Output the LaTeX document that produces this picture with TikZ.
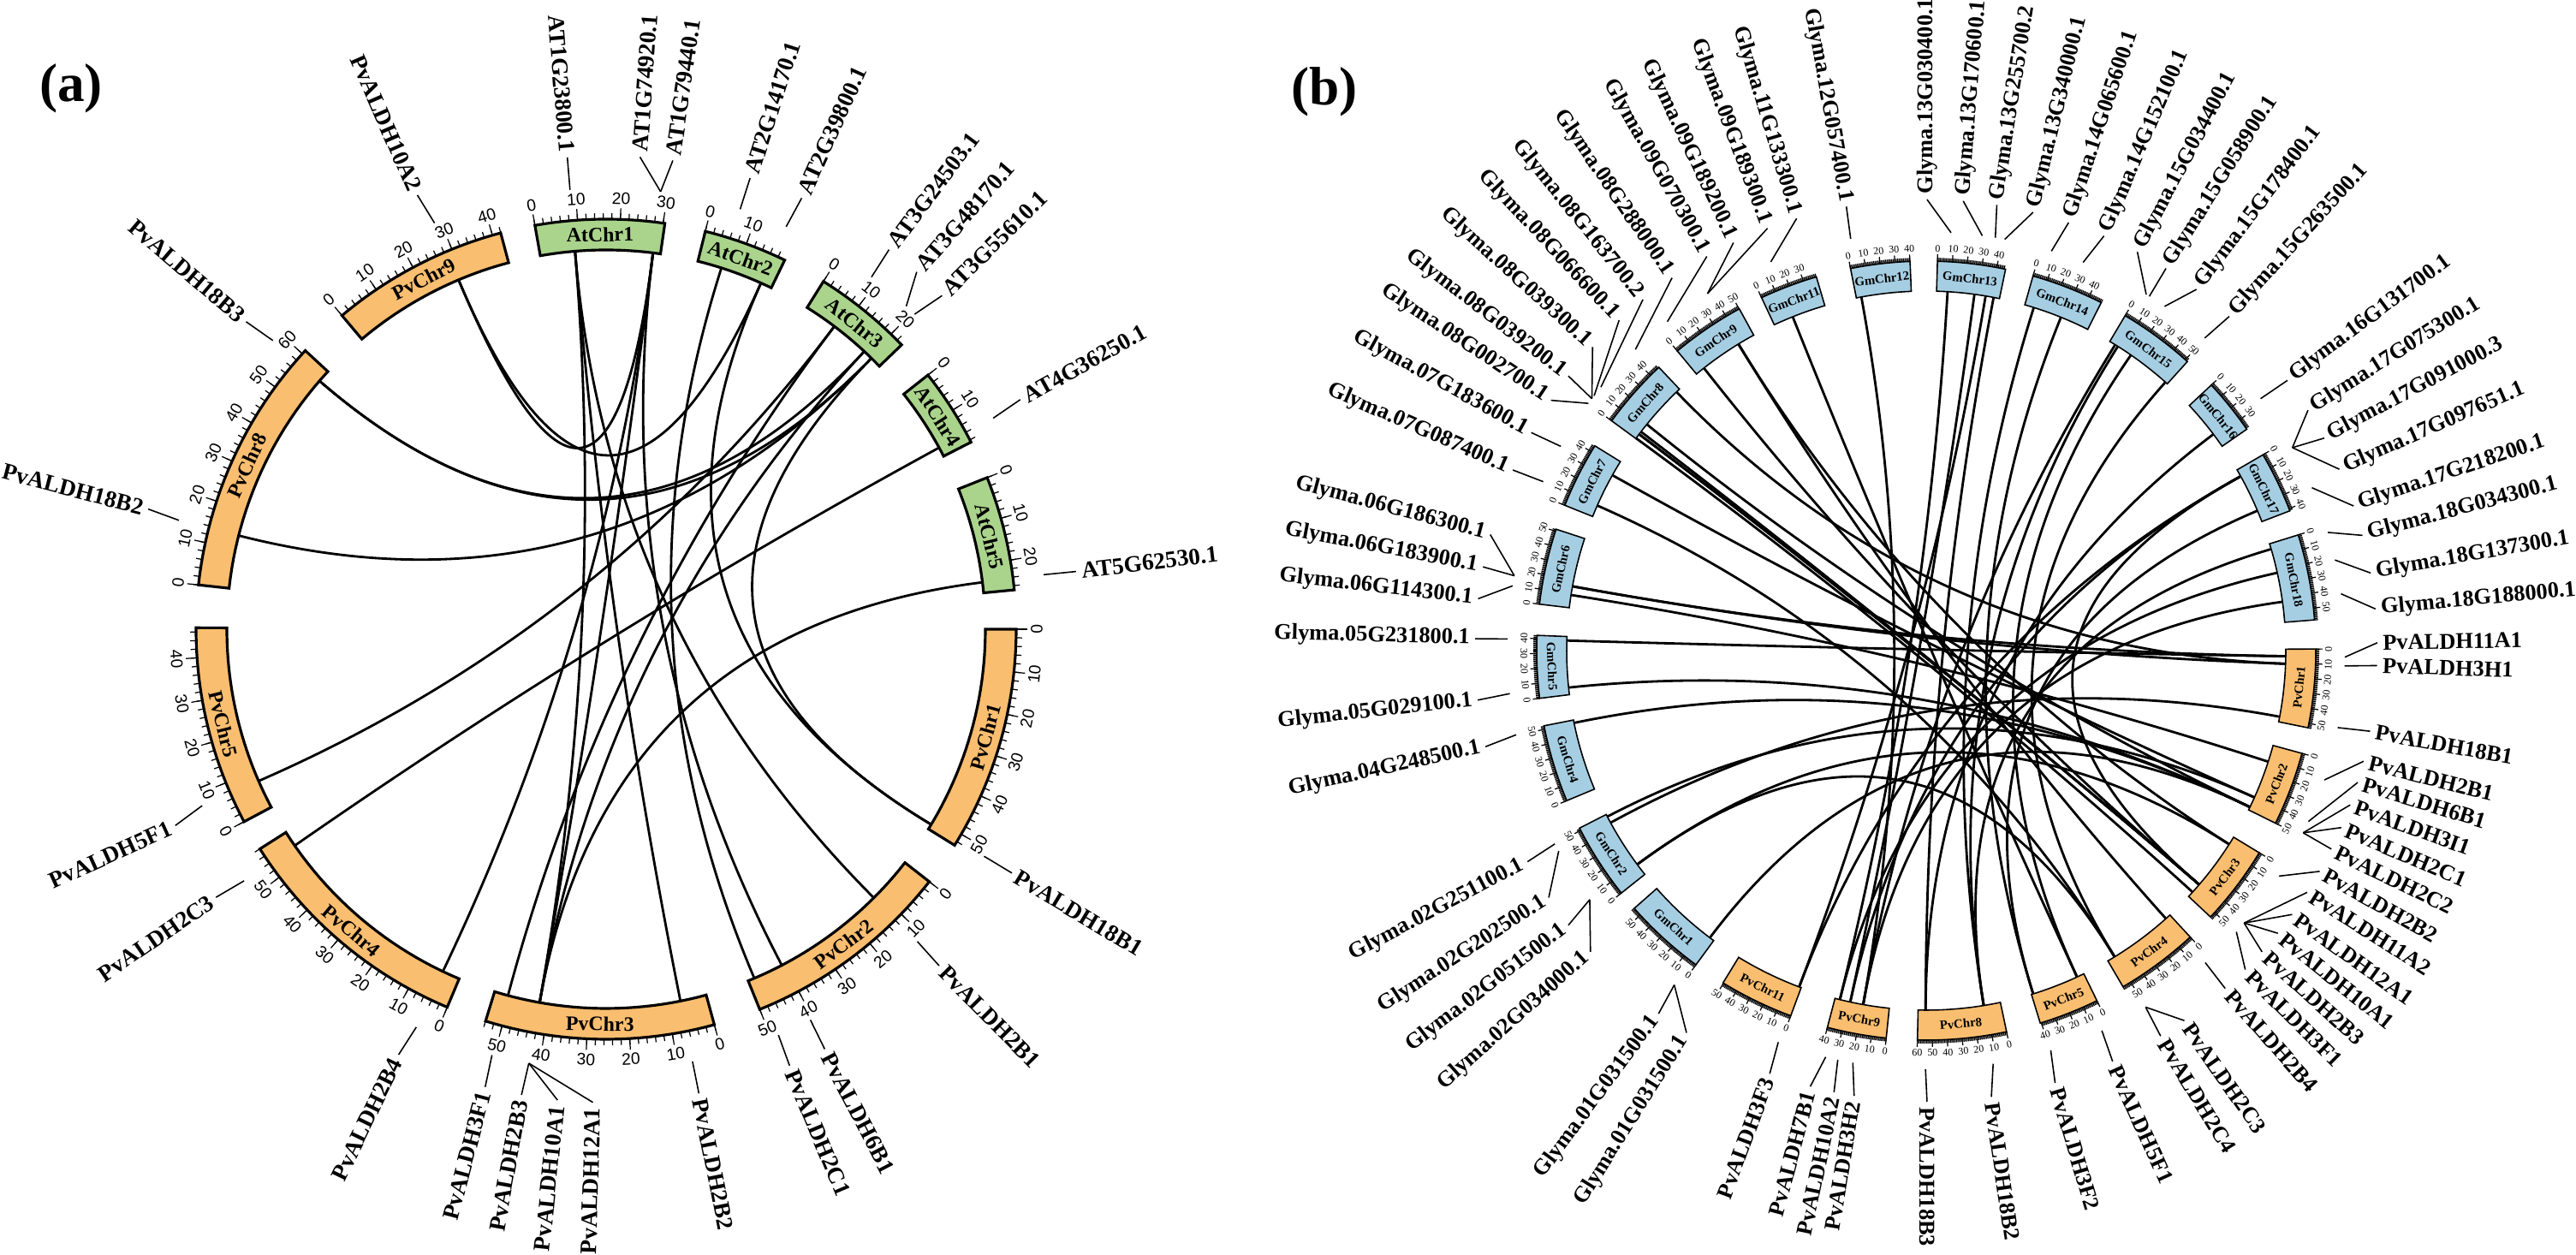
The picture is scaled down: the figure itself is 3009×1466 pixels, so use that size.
\documentclass[tikz,border=0pt]{standalone}
\usepackage{fontspec}
\setmainfont{Liberation Serif}
\newfontfamily\ticksans{Liberation Sans}
\usetikzlibrary{calc}

\definecolor{pvorange}{RGB}{250,190,112}
\definecolor{atgreen}{RGB}{170,212,140}
\definecolor{gmblue}{RGB}{166,206,227}

\tikzset{
  chrbox/.style={draw=black, line join=miter},
  link/.style={line width=0.8pt},
  leader/.style={line width=0.45pt},
  tickline/.style={line width=0.35pt},
}

% tangential rotation, kept upright
\newcommand{\uprot}[1]{%
  \pgfmathsetmacro\rot{mod(#1+810,360)-180}%
  \pgfmathsetmacro\rot{ifthenelse(abs(\rot)>90,\rot+180,\rot)}}

% radial rotation and anchor for the gene names
\newcommand{\radrot}[1]{%
  \pgfmathsetmacro\rot{mod(#1+720,360)}%
  \pgfmathtruncatemacro\lhalf{and(\rot>90,\rot<270)}%
  \ifnum\lhalf=1 \pgfmathsetmacro\rot{\rot-180}\def\anc{east}\else\def\anc{west}\fi}

% one chromosome: panel, name, start angle, length (Mb), colour
\newcommand{\chrom}[5]{%
  \pgfmathsetmacro\cEnd{#3-\kk*#4}%
  \pgfmathsetmacro\cMid{(#3+\cEnd)/2}%
  \pgfmathsetmacro\cRm{(\Rin+\Rout)/2}%
  \draw[chrbox, line width=\boxlw, fill=#5]
    plot[domain=\cEnd:#3, samples=25] (\x:\Rin)
    -- plot[domain=\cEnd:#3, samples=25] ({#3+\cEnd-\x}:\Rout) -- cycle;
  \uprot{\cMid}%
  \node[font=\namefont, rotate=\rot, inner sep=0pt] (#1-#2) at (\cMid:\cRm) {#2};
  % ticks
  \pgfmathtruncatemacro\cNt{#4/\mstep}%
  \pgfmathsetmacro\tRa{\Rout+\tmin}%
  \foreach \i in {0,...,\cNt} {%
    \pgfmathsetmacro\tAng{#3-\kk*\mstep*\i}%
    \draw[tickline] (\tAng:\Rout) -- (\tAng:\tRa);}%
  \pgfmathtruncatemacro\cNm{#4/10}%
  \pgfmathsetmacro\tRb{\Rout+\tmaj}%
  \foreach \i in {0,...,\cNm} {%
    \pgfmathsetmacro\tAng{#3-\kk*10*\i}%
    \pgfmathtruncatemacro\tVal{10*\i}%
    \draw[tickline] (\tAng:\Rout) -- (\tAng:\tRb);
    \uprot{\tAng}%
    \node[font=\tickfont, rotate=\rot, inner sep=0pt] (#1-#2-t\tVal) at (\tAng:\Rtl) {\tVal};}%
}

% one gene: panel, id, gene angle, label angle, text
\newcommand{\gene}[5]{%
  \coordinate (#1-#2) at (#3:\Rin);
  \draw[leader] (#3:\Rlead) -- (#4:\Rkink);
  \radrot{#4}%
  \node[font=\genefont, rotate=\rot, anchor=\anc, inner sep=0.8pt] (#1-lab-#2) at (#4:\Rtext) {#5};}

\begin{document}
\begin{tikzpicture}[x=0.1mm, y=0.1mm]
\useasboundingbox (0,0) rectangle (3009,1466);

% Panel letters
\node[font=\bfseries\fontsize{18}{20}\selectfont] (lab-a) at (83,1363) {(a)};
\node[font=\bfseries\fontsize{18}{20}\selectfont] (lab-b) at (1547,1359) {(b)};

% ---------------- (a) common bean vs Arabidopsis ----------------
\coordinate (a-O) at (708,731);
\begin{scope}[shift={(a-O)}]
  \def\Rin{443}\def\Rout{479}\def\kk{0.6}\def\boxlw{0.9pt}
  \def\mstep{2}\def\tmin{7}\def\tmaj{13}\def\Rtl{503}
  \def\Rlead{515}\def\Rkink{553}\def\Rtext{556}
  \def\namefont{\bfseries\fontsize{6.8}{7}\selectfont}
  \def\tickfont{\ticksans\fontsize{5.5}{6}\selectfont}
  \def\genefont{\bfseries\fontsize{7.8}{8}\selectfont}

  % Chromosome boxes
  \foreach \cname/\cstart/\clen/\ccol in {
      AtChr1/100/30.4/atgreen, AtChr2/76/19.7/atgreen, AtChr3/58/23.5/atgreen,
      AtChr4/38.3/18.6/atgreen, AtChr5/21.7/27/atgreen,
      PvChr1/0/53/pvorange, PvChr2/-38/50/pvorange, PvChr3/-74.7/54/pvorange,
      PvChr4/-112.8/58/pvorange, PvChr5/-152/47/pvorange,
      PvChr8/173.8/61/pvorange, PvChr9/130.1/42/pvorange}
    {\chrom{a}{\cname}{\cstart}{\clen}{\ccol}}

  % Gene names
  \foreach \gid/\ga/\la/\gtxt in {
      PvALDH18B1/-31/-31/PvALDH18B1, PvALDH2B1/-45.1/-45.3/PvALDH2B1,
      PvALDH6B1/-62.4/-62.5/PvALDH6B1, PvALDH2C1/-67/-67.2/PvALDH2C1,
      PvALDH2B2/-78.7/-78.7/PvALDH2B2, PvALDH2B3/-100.1/-100.3/PvALDH2B3,
      PvALDH10A1/-100.1/-95.9/PvALDH10A1, PvALDH12A1/-100.1/-91.6/PvALDH12A1,
      PvALDH3F1/-105/-104.8/PvALDH3F1, PvALDH2B4/-115.5/-116/PvALDH2B4,
      PvALDH2C3/-145.2/-145.5/PvALDH2C3, PvALDH5F1/-156.4/-155.5/PvALDH5F1,
      PvALDH18B2/165.7/165.3/PvALDH18B2, PvALDH18B3/139.1/139.5/PvALDH18B3,
      PvALDH10A2/112.9/113.5/PvALDH10A2,
      AT1G23800/94.7/94.7/AT1G23800.1, AT1G74920/82.9/85.9/AT1G74920.1,
      AT1G79440/82.9/81.9/AT1G79440.1, AT2G14170/72.3/72.3/AT2G14170.1,
      AT2G39800/65.9/65.6/AT2G39800.1, AT3G24503/53/53.3/AT3G24503.1,
      AT3G48170/47.1/49/AT3G48170.1, AT3G55610/45.6/44.8/AT3G55610.1,
      AT4G36250/28.6/29/AT4G36250.1, AT5G62530/7.1/7/AT5G62530.1}
    {\gene{a}{\gid}{\ga}{\la}{\gtxt}}
\end{scope}

% Syntenic links (a)
\foreach \p/\q in {
    PvALDH10A2/AT1G74920, PvALDH10A2/AT2G39800, PvALDH10A1/AT1G74920,
    PvALDH10A1/AT3G48170, PvALDH18B3/AT3G55610, PvALDH18B3/AT3G48170,
    PvALDH18B2/AT3G55610, PvALDH18B1/AT2G39800, PvALDH18B1/AT3G55610,
    PvALDH2B1/AT1G23800, PvALDH2B2/AT1G23800, PvALDH2B3/AT1G23800,
    PvALDH2B4/AT1G79440, PvALDH2C1/AT2G14170, PvALDH6B1/AT1G79440,
    PvALDH2C3/AT4G36250, PvALDH5F1/AT3G24503, PvALDH3F1/AT3G24503,
    PvALDH12A1/AT5G62530}
  {\draw[link] (a-\p) .. controls ($(a-\p)!0.667!(a-O)$) and ($(a-\q)!0.667!(a-O)$) .. (a-\q);}

% ---------------- (b) common bean vs soybean ----------------
\coordinate (b-O) at (2250,706);
\begin{scope}[shift={(b-O)}]
  \def\Rin{420}\def\Rout{455}\def\kk{0.22}\def\boxlw{0.45pt}
  \def\mstep{1}\def\tmin{4}\def\tmaj{8}\def\Rtl{470}
  \def\Rlead{489}\def\Rkink{527}\def\Rtext{530}
  \def\namefont{\bfseries\fontsize{4.2}{5}\selectfont}
  \def\tickfont{\fontsize{3.4}{4}\selectfont}
  \def\genefont{\bfseries\fontsize{7.5}{8}\selectfont}

  % Chromosome boxes
  \foreach \cname/\cstart/\clen/\ccol in {
      GmChr12/101.21/40.1/gmblue, GmChr13/88.35/45.9/gmblue, GmChr14/74.09/49/gmblue,
      GmChr15/59.3/51.8/gmblue, GmChr16/42.97/37.9/gmblue, GmChr17/30.18/41.6/gmblue,
      GmChr18/17.28/58/gmblue,
      PvChr1/0.23/53/pvorange, PvChr2/-15.3/50/pvorange, PvChr3/-31.26/54/pvorange,
      PvChr4/-47.34/56/pvorange, PvChr5/-64.01/40.8/pvorange, PvChr8/-78.1/60/pvorange,
      PvChr9/-95.9/40/pvorange, PvChr11/-110.36/50.4/pvorange,
      GmChr1/-126.24/56/gmblue, GmChr2/-141.51/51.7/gmblue, GmChr4/-157.34/52.4/gmblue,
      GmChr5/-172.96/42.2/gmblue, GmChr6/173.15/51.4/gmblue, GmChr7/158.1/44.6/gmblue,
      GmChr8/143.86/47.8/gmblue, GmChr9/129.72/50.2/gmblue, GmChr11/115.01/39.2/gmblue}
    {\chrom{b}{\cname}{\cstart}{\clen}{\ccol}}

  % Gene names
  \foreach \gid/\ga/\la/\gtxt in {
      g12G057400/100.4/100.2/Glyma.12G057400.1, g11G133300/111.8/106.7/Glyma.11G133300.1,
      g09G189300/121.5/110.6/Glyma.09G189300.1, g09G189200/121.5/115.3/Glyma.09G189200.1,
      g09G070300/128.2/119.1/Glyma.09G070300.1, g08G288000/134/124.3/Glyma.08G288000.1,
      g08G163700/141/128.9/Glyma.08G163700.2, g08G066600/142.5/132.9/Glyma.08G066600.1,
      g08G039300/143/137.7/Glyma.08G039300.1, g08G039200/143/142.5/Glyma.08G039200.1,
      g08G002700/143.8/146.3/Glyma.08G002700.1, g07G183600/150.8/151.1/Glyma.07G183600.1,
      g07G087400/156.2/156.4/Glyma.07G087400.1, g06G186300/169.7/165.1/Glyma.06G186300.1,
      g06G183900/169.7/169.3/Glyma.06G183900.1, g06G114300/171.1/173.4/Glyma.06G114300.1,
      g05G231800/178.4/178.5/Glyma.05G231800.1, g05G029100/185.9/186.3/Glyma.05G029100.1,
      g04G248500/191.6/192.3/Glyma.04G248500.1, g02G251100/207.5/207.9/Glyma.02G251100.1,
      g02G202500/208.6/213.2/Glyma.02G202500.1, g02G051500/216.5/217.5/Glyma.02G051500.1,
      g02G034000/216.5/221.9/Glyma.02G034000.1, g01G031500a/233/233.6/Glyma.01G031500.1,
      g01G031500b/233/237.9/Glyma.01G031500.1,
      PvALDH3F3/249.3/249.7/PvALDH3F3, PvALDH7B1/256.1/255.1/PvALDH7B1,
      PvALDH10A2/257.8/258.2/PvALDH10A2, PvALDH3H2/259.9/260.8/PvALDH3H2,
      PvALDH18B3/269.9/270.1/PvALDH18B3, PvALDH18B2/279.2/278.3/PvALDH18B2,
      PvALDH3F2/287.3/286.6/PvALDH3F2, PvALDH5F1/294.8/294.4/PvALDH5F1,
      PvALDH2C4/301.6/301.3/PvALDH2C4, PvALDH2C3/301.6/304.9/PvALDH2C3,
      PvALDH2B4/311.8/311.5/PvALDH2B4, PvALDH3F1/317.8/315/PvALDH3F1,
      PvALDH2B3/319.4/318.1/PvALDH2B3, PvALDH10A1/319.4/321.2/PvALDH10A1,
      PvALDH12A1/319.4/324.2/PvALDH12A1, PvALDH11A2/319.4/327.6/PvALDH11A2,
      PvALDH2B2/327.4/330.7/PvALDH2B2, PvALDH2C2/334.2/333.9/PvALDH2C2,
      PvALDH2C1/334.2/336.9/PvALDH2C1, PvALDH3I1/334.2/340/PvALDH3I1,
      PvALDH6B1/335.9/343/PvALDH6B1, PvALDH2B1/342/345.8/PvALDH2B1,
      PvALDH18B1/349.4/349.7/PvALDH18B1, PvALDH3H1/357.9/358.1/PvALDH3H1,
      PvALDH11A1/359.1/361/PvALDH11A1,
      g18G188000/7.8/5.3/Glyma.18G188000.1, g18G137300/12.5/9.9/Glyma.18G137300.1,
      g18G034300/16.4/14.8/Glyma.18G034300.1, g17G218200/22.9/18.7/Glyma.17G218200.1,
      g17G097651/29/23.7/Glyma.17G097651.1, g17G091000/29/28.1/Glyma.17G091000.3,
      g17G075300/29/32.2/Glyma.17G075300.1, g16G131700/37/36.8/Glyma.16G131700.1,
      g15G263500/48.3/47.8/Glyma.15G263500.1, g15G178400/55.3/53.2/Glyma.15G178400.1,
      g15G058900/57.8/57.9/Glyma.15G058900.1, g15G034400/58.3/62.1/Glyma.15G034400.1,
      g14G152100/68/66.8/Glyma.14G152100.1, g14G065600/72.6/71.6/Glyma.14G065600.1,
      g13G340000/79.2/76.3/Glyma.13G340000.1, g13G255700/80.5/81/Glyma.13G255700.2,
      g13G170600/82.3/85.3/Glyma.13G170600.1, g13G030400/86.6/89.9/Glyma.13G030400.1}
    {\gene{b}{\gid}{\ga}{\la}{\gtxt}}
\end{scope}

% Syntenic links (b)
\foreach \p/\q in {
    g12G057400/PvALDH3H2, g11G133300/PvALDH5F1, g09G189300/PvALDH2B2,
    g09G189200/PvALDH2B4, g09G070300/PvALDH10A1, g08G288000/PvALDH3H1,
    g08G163700/PvALDH2C1, g08G066600/PvALDH11A2, g08G039300/PvALDH2B3,
    g08G039200/PvALDH12A1, g08G002700/PvALDH3F1, g07G183600/PvALDH6B1,
    g07G087400/PvALDH2C3, g06G186300/PvALDH11A1, g06G183900/PvALDH3H1,
    g06G114300/PvALDH2B1, g05G231800/PvALDH11A1, g05G029100/PvALDH2C2,
    g04G248500/PvALDH3I1, g02G251100/PvALDH6B1, g02G202500/PvALDH18B1,
    g02G051500/PvALDH2C4, g02G034000/PvALDH2B2, g01G031500a/PvALDH2C1,
    g13G030400/PvALDH7B1, g13G170600/PvALDH10A2, g13G255700/PvALDH3F3,
    g13G340000/PvALDH18B3, g14G065600/PvALDH18B2, g14G152100/PvALDH3F2,
    g15G034400/PvALDH3H2, g15G058900/PvALDH18B2, g15G178400/PvALDH5F1,
    g15G263500/PvALDH2C3, g16G131700/PvALDH18B3, g17G075300/PvALDH11A2,
    g17G091000/PvALDH3F3, g17G097651/PvALDH10A2, g17G218200/PvALDH3F2,
    g18G034300/PvALDH18B2, g18G137300/PvALDH7B1, g18G188000/PvALDH3H2}
  {\draw[link] (b-\p) .. controls ($(b-\p)!0.667!(b-O)$) and ($(b-\q)!0.667!(b-O)$) .. (b-\q);}

\end{tikzpicture}
\end{document}
